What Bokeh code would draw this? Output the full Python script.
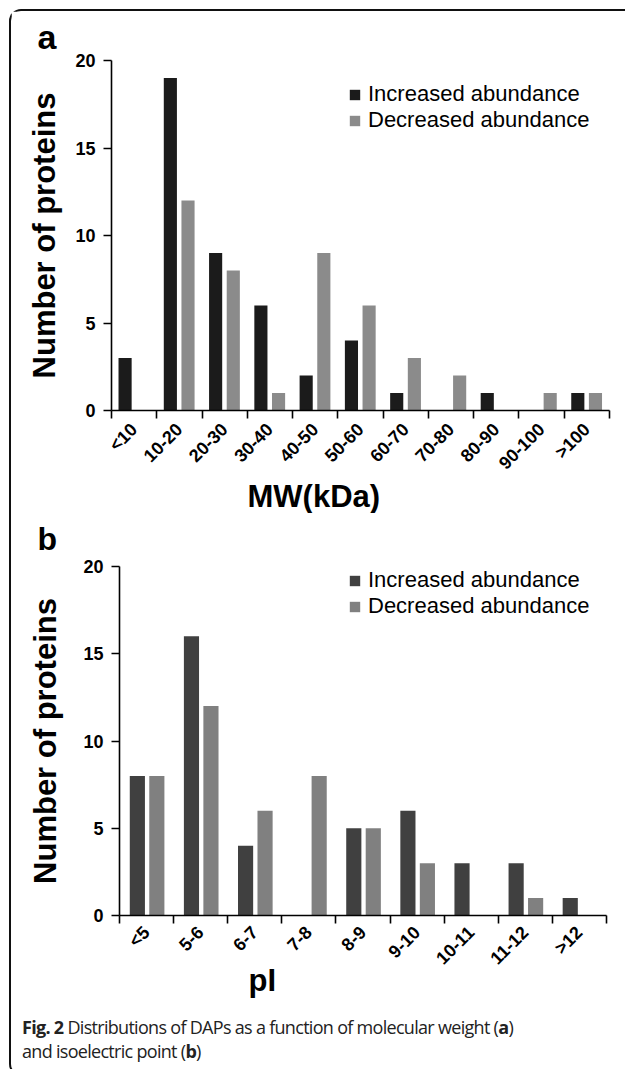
import math
from bokeh.plotting import figure
from bokeh.models import (FactorRange, Range1d, LinearAxis, CategoricalAxis, FixedTicker,
                          Legend, LegendItem, Title, Div, ColumnDataSource)
from bokeh.layouts import column
from bokeh.transform import dodge
from bokeh.embed import file_html
from bokeh.resources import INLINE

# ---- data ----
mw_categories = ["<10", "10-20", "20-30", "30-40", "40-50", "50-60",
                 "60-70", "70-80", "80-90", "90-100", ">100"]
mw_increased = [3, 19, 9, 6, 2, 4, 1, 0, 1, 0, 1]
mw_decreased = [0, 12, 8, 1, 9, 6, 3, 2, 0, 1, 1]

pi_categories = ["<5", "5-6", "6-7", "7-8", "8-9", "9-10", "10-11", "11-12", ">12"]
pi_increased = [8, 16, 4, 0, 5, 6, 3, 3, 1]
pi_decreased = [8, 12, 6, 8, 5, 3, 0, 1, 0]

y_ticks = [0, 5, 10, 15, 20]
series_names = ["Increased abundance", "Decreased abundance"]

FONT = "Liberation Sans"


def bold_title(text, size, align="left", offset=0, standoff=0, valign="bottom"):
    return Title(text=text, align=align, offset=offset, standoff=standoff,
                 vertical_align=valign, text_font=FONT, text_font_style="bold",
                 text_font_size=size, text_color="black")


def make_panel(cats, inc, dec, height, mb_top, mb_bottom, mb_left, mb_right,
               inc_color, dec_color, legend_xy, off_inc, off_dec, bar_w,
               ylabel_standoff, xlabel_standoff):
    src = ColumnDataSource(dict(cat=cats, inc=inc, dec=dec))
    p = figure(x_range=FactorRange(factors=cats, range_padding=0),
               y_range=Range1d(0, 20), width=614, height=height, title=None,
               output_backend="svg", toolbar_location=None,
               x_axis_location=None, y_axis_location=None,
               min_border_top=mb_top, min_border_bottom=mb_bottom,
               min_border_left=mb_left, min_border_right=mb_right)
    try:
        p.frame_align = False  # keep each panel's own frame position
    except AttributeError:
        pass
    p.outline_line_color = None
    p.background_fill_color = "white"
    p.border_fill_color = "white"
    p.grid.visible = False

    r_inc = p.vbar(x=dodge("cat", off_inc, range=p.x_range), top="inc", width=bar_w,
                   source=src, fill_color=inc_color, line_color=None)
    r_dec = p.vbar(x=dodge("cat", off_dec, range=p.x_range), top="dec", width=bar_w,
                   source=src, fill_color=dec_color, line_color=None)

    yaxis = LinearAxis(ticker=FixedTicker(ticks=y_ticks), axis_label="Number of proteins")
    yaxis.axis_line_width = 1.6
    yaxis.axis_line_color = "black"
    yaxis.major_tick_line_width = 1.6
    yaxis.major_tick_out = 8
    yaxis.major_tick_in = 0
    yaxis.minor_tick_line_color = None
    yaxis.major_label_text_font = FONT
    yaxis.major_label_text_font_style = "bold"
    yaxis.major_label_text_font_size = "18px"
    yaxis.major_label_text_color = "black"
    yaxis.major_label_standoff = 8
    yaxis.axis_label_text_font = FONT
    yaxis.axis_label_text_font_style = "bold"
    yaxis.axis_label_text_font_size = "31px"
    yaxis.axis_label_text_color = "black"
    yaxis.axis_label_standoff = ylabel_standoff
    p.add_layout(yaxis, "left")

    # axis line with ticks on the category boundaries (synthetic coords 0..n)
    edge_axis = LinearAxis(ticker=FixedTicker(ticks=[], minor_ticks=list(range(len(cats) + 1))))
    edge_axis.axis_line_width = 1.6
    edge_axis.axis_line_color = "black"
    edge_axis.major_tick_line_color = None
    edge_axis.minor_tick_line_color = "black"
    edge_axis.minor_tick_line_width = 1.6
    edge_axis.minor_tick_out = 8
    edge_axis.minor_tick_in = 0
    edge_axis.major_label_standoff = 0
    p.add_layout(edge_axis, "below")

    cat_axis = CategoricalAxis()
    cat_axis.axis_line_color = None
    cat_axis.major_tick_line_color = None
    cat_axis.minor_tick_line_color = None
    cat_axis.major_label_orientation = math.pi / 4
    cat_axis.major_label_text_font = FONT
    cat_axis.major_label_text_font_style = "bold"
    cat_axis.major_label_text_font_size = "18px"
    cat_axis.major_label_text_color = "black"
    cat_axis.major_label_standoff = xlabel_standoff
    p.add_layout(cat_axis, "below")

    legend = Legend(items=[LegendItem(label=series_names[0], renderers=[r_inc]),
                           LegendItem(label=series_names[1], renderers=[r_dec])],
                    location=legend_xy)
    legend.padding = 0
    legend.margin = 0
    legend.spacing = 0
    legend.border_line_color = None
    legend.background_fill_alpha = 0
    legend.glyph_width = 13
    legend.glyph_height = 13
    legend.label_standoff = 7
    legend.label_height = 24
    legend.label_text_font = FONT
    legend.label_text_font_size = "22px"
    legend.label_text_color = "black"
    p.add_layout(legend, "center")
    return p


# panel a : 11..513 px
pa = make_panel(mw_categories, mw_increased, mw_decreased, height=502,
                mb_top=49, mb_bottom=103, mb_left=100, mb_right=16,
                inc_color="#1b1b1b", dec_color="#8b8b8b",
                legend_xy=(237, 277), off_inc=-0.2, off_dec=0.19, bar_w=0.29,
                ylabel_standoff=10, xlabel_standoff=2)
pa.add_layout(bold_title("a", "34px", offset=-74, standoff=9), "above")
pa.add_layout(bold_title("MW(kDa)", "31px", offset=136, standoff=-14), "below")

# panel b : 513..999 px
pb = make_panel(pi_categories, pi_increased, pi_decreased, height=486,
                mb_top=53, mb_bottom=84, mb_left=108, mb_right=19,
                inc_color="#404040", dec_color="#808080",
                legend_xy=(229, 296), off_inc=-0.17, off_dec=0.19, bar_w=0.28,
                ylabel_standoff=17, xlabel_standoff=0)
pb.add_layout(bold_title("b", "32px", offset=-82, standoff=15, valign="top"), "above")
pb.add_layout(bold_title("pI", "31px", offset=129, standoff=-36), "below")

caption = Div(
    text=("<b>Fig. 2</b> Distributions of DAPs as a function of molecular weight (<b>a</b>)"
          "<br>and isoelectric point (<b>b</b>)"),
    width=614, height=65,
    styles={"font-family": "'Open Sans'", "font-size": "18px", "line-height": "24px",
            "letter-spacing": "-0.7px", "color": "#222222", "padding-top": "11px",
            "padding-left": "6px", "box-sizing": "border-box"})

layout = column(pa, pb, caption, spacing=0, margin=(9, 0, 0, 9),
                styles={"border-top": "2px solid #111111",
                        "border-left": "2px solid #111111",
                        "border-bottom": "2px solid #111111",
                        "border-top-left-radius": "12px",
                        "border-bottom-left-radius": "12px",
                        "background-color": "white"})

open("out.html", "w").write(file_html(layout, INLINE))
